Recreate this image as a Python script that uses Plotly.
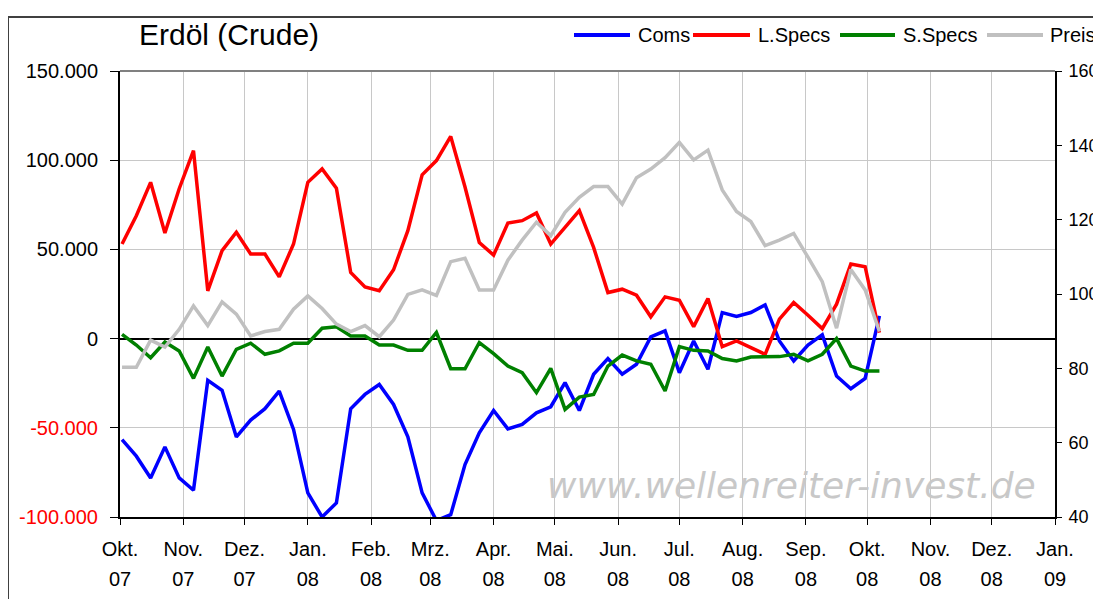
import pandas as pd
import plotly.graph_objects as go

# Weekly COT data (Tuesdays), Oct 2007 - Oct 2008
dates = pd.date_range("2007-10-02", periods=54, freq="7D")

coms = [-56600, -65900, -78100, -60700, -78100, -85000, -23400, -29000, -55100, -45700,
        -39300, -29400, -50900, -86500, -100000, -92100, -39300, -31300, -25700, -36900,
        -55100, -86500, -102000, -98700, -70600, -52800, -40300, -50600, -48100, -41600,
        -38200, -24700, -40300, -20000, -11200, -20000, -14400, 900, 4300, -19100,
        -1300, -17200, 14600, 12400, 14600, 18900, -1300, -12500, -3600, 2100,
        -21000, -28100, -22300, 12700]

lspecs = [53000, 68900, 87600, 59200, 84000, 105400, 26800, 49300, 59600, 47400,
          47400, 34600, 53000, 87600, 95100, 84300, 37100, 29000, 26800, 38600,
          60500, 91800, 99800, 113300, 85000, 53900, 46800, 64800, 66100, 70400,
          53000, 62400, 71700, 51100, 25800, 27700, 24300, 12200, 23400, 21500,
          6700, 22500, -4500, -1300, -5000, -8800, 10900, 20200, 13100, 5600,
          19300, 41800, 40300, 3400]

sspecs = [2400, -3600, -10700, -1900, -6900, -22300, -4700, -21000, -6000, -2600,
          -8800, -6900, -2600, -2600, 5800, 6600, 1500, 1500, -3600, -3600,
          -6600, -6600, 3400, -16900, -16900, -2200, -8400, -15400, -19100, -30300,
          -16700, -39700, -32800, -31300, -15400, -9200, -12500, -14400, -29400, -4500,
          -6600, -6900, -11200, -12500, -10300, -10100, -10100, -8800, -12500, -8800,
          0, -15400, -18200, -18200]

preis = [80.3, 80.3, 87.6, 85.7, 90.5, 96.8, 91.5, 97.9, 94.6, 88.7,
         89.9, 90.5, 95.9, 99.5, 96.1, 91.9, 89.9, 91.5, 88.5, 93.0,
         99.9, 101.1, 99.6, 108.7, 109.6, 101.1, 101.1, 109.1, 114.5, 119.3,
         115.7, 122.0, 126.0, 128.9, 128.9, 124.2, 131.3, 133.6, 136.7, 140.8,
         136.1, 138.7, 128.0, 122.2, 119.5, 113.0, 114.5, 116.3, 109.9, 103.3,
         90.8, 106.6, 101.1, 89.9]

series_names = ["Coms", "L.Specs", "S.Specs", "Preis"]
series_colors = ["#0000ff", "#ff0000", "#008000", "#c0c0c0"]

month_ticks = ["2007-10-01", "2007-11-01", "2007-12-01", "2008-01-01", "2008-02-01",
               "2008-03-01", "2008-04-01", "2008-05-01", "2008-06-01", "2008-07-01",
               "2008-08-01", "2008-09-01", "2008-10-01", "2008-11-01", "2008-12-01",
               "2009-01-01"]
month_labels = ["Okt.", "Nov.", "Dez.", "Jan.", "Feb.", "Mrz.", "Apr.", "Mai.", "Jun.",
                "Jul.", "Aug.", "Sep.", "Okt.", "Nov.", "Dez.", "Jan."]
year_labels = ["07", "07", "07", "08", "08", "08", "08", "08", "08", "08", "08", "08",
               "08", "08", "08", "09"]

left_ticks = [-100000, -50000, 0, 50000, 100000, 150000]
left_labels = ['<span style="color:#ff0000">-100.000</span>',
               '<span style="color:#ff0000">-50.000</span>',
               "0", "50.000", "100.000", "150.000"]
right_ticks = [40, 60, 80, 100, 120, 140, 160]

FONT = "Liberation Sans, Arial, sans-serif"
X_RANGE = ["2007-10-01", "2009-01-01"]

# page has an 8px body margin; geometry below is in figure pixels
OFF = 8
W, H = 1101 - OFF, 599 - OFF
L, T = 120 - OFF, 71 - OFF
PW, PH = 935, 446
R, B = W - L - PW, H - T - PH


def px_x(sx):
    """screen x -> paper x"""
    return (sx - OFF - L) / PW


def px_y(sy):
    """screen y -> paper y"""
    return (T + PH - (sy - OFF)) / PH


fig = go.Figure()
for name, vals, col in zip(series_names[:3], [coms, lspecs, sspecs], series_colors[:3]):
    fig.add_trace(go.Scatter(x=dates, y=vals, name=name, mode="lines", showlegend=False,
                             line=dict(color=col, width=3.5)))
fig.add_trace(go.Scatter(x=dates, y=preis, name="Preis", mode="lines", showlegend=False,
                         xaxis="x2", yaxis="y2",
                         line=dict(color=series_colors[3], width=3.5)))

fig.update_layout(
    width=W, height=H, autosize=False,
    margin=dict(l=L, r=R, t=T, b=B, autoexpand=False),
    paper_bgcolor="white", plot_bgcolor="white",
    font=dict(family=FONT, size=20, color="black"),
    showlegend=False,
    xaxis=dict(type="date", range=X_RANGE,
               tickvals=month_ticks, ticktext=month_labels,
               showgrid=True, gridcolor="#c8c8c8", gridwidth=1,
               showline=True, linecolor="black", linewidth=2,
               ticks="outside", ticklen=6, tickcolor="black", tickwidth=1,
               tickfont=dict(size=20), ticklabelstandoff=7, zeroline=False,
               automargin=False),
    xaxis2=dict(type="date", range=X_RANGE, overlaying="x", side="bottom", anchor="y",
                tickvals=month_ticks, ticktext=year_labels,
                showgrid=False, showline=False, ticks="", zeroline=False,
                tickfont=dict(size=20), ticklabelstandoff=48, automargin=False),
    yaxis=dict(range=[-100000, 150000], tickvals=left_ticks, ticktext=left_labels,
               showgrid=True, gridcolor="#c8c8c8", gridwidth=1,
               showline=True, linecolor="black", linewidth=2,
               ticks="outside", ticklen=8, tickcolor="black", tickwidth=1,
               zeroline=True, zerolinecolor="black", zerolinewidth=2,
               tickfont=dict(size=20), ticklabelstandoff=8, automargin=False),
    yaxis2=dict(range=[40, 160], tickvals=right_ticks, overlaying="y", side="right",
                anchor="x2",
                showgrid=False, showline=True, linecolor="black", linewidth=2,
                ticks="outside", ticklen=5, tickcolor="black", tickwidth=1,
                zeroline=False, tickfont=dict(size=18), ticklabelstandoff=3,
                automargin=False),
)

# top border of plot area
fig.add_shape(type="line", xref="paper", yref="paper", x0=0, x1=1, y0=1, y1=1,
              line=dict(color="#808080", width=2))
# outer frame of the chart
fig.add_shape(type="rect", xref="paper", yref="paper", x0=px_x(8), x1=px_x(1140),
              y0=px_y(640), y1=px_y(17), line=dict(color="#404040", width=2), layer="below")

# title
fig.add_annotation(text="Erdöl (Crude)", xref="paper", yref="paper", x=px_x(137),
                   y=px_y(35), xanchor="left", yanchor="middle", showarrow=False,
                   font=dict(size=30, family=FONT, color="black"))

# legend (line sample + label)
legend_lines = [(574, 630, 636), (693, 750, 756), (840, 895, 901), (987, 1043, 1048)]
for (x0, x1, xt), name, col in zip(legend_lines, series_names, series_colors):
    fig.add_shape(type="line", xref="paper", yref="paper", x0=px_x(x0), x1=px_x(x1),
                  y0=px_y(35), y1=px_y(35), line=dict(color=col, width=4))
    fig.add_annotation(text=name, xref="paper", yref="paper", x=px_x(xt), y=px_y(35),
                       xanchor="left", yanchor="middle", showarrow=False,
                       font=dict(size=20, family=FONT, color="black"))

# watermark
fig.add_annotation(text="<i>www.wellenreiter-invest.de</i>", xref="paper", yref="paper",
                   x=px_x(791), y=px_y(485), xanchor="center", yanchor="middle",
                   showarrow=False,
                   font=dict(size=36, family="DejaVu Sans, sans-serif", color="#c8c8c8"))

fig.write_html("out.html")
